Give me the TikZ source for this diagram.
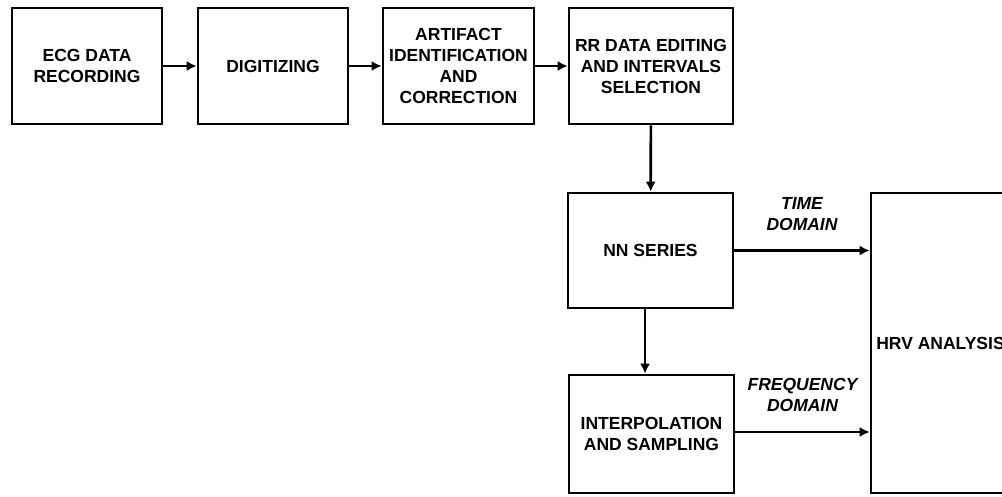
\documentclass[tikz,border=0pt]{standalone}
\usepackage{fontspec}
\setmainfont{Liberation Sans}
\usepackage{tikz}
\usetikzlibrary{arrows.meta}

\tikzset{
  blk/.style={draw, line width=2.6pt, align=center, inner sep=2pt,
    minimum width=150pt, minimum height=116pt,
    font=\fontsize{17.5}{21}\selectfont\bfseries},
  flow/.style={line width=2.6pt, -{Latex[length=10pt,width=10pt]}},
  dom/.style={align=center, inner sep=3pt,
    font=\fontsize{17.5}{21}\selectfont\bfseries\itshape}
}

\begin{document}
\begin{tikzpicture}[x=1pt,y=-1pt]
\clip (0,0) rectangle (1002,497);
\fill[white] (0,0) rectangle (1002,497);

% top row
\node[blk] (ecg) at (87,66) {ECG DATA\\RECORDING};
\node[blk] (dig) at (273,66) {DIGITIZING};
\node[blk, minimum width=151pt] (art) at (458.5,66) {ARTIFACT\\IDENTIFICATION\\AND\\CORRECTION};
\node[blk, minimum width=164pt] (rr) at (651,66) {RR DATA EDITING\\AND INTERVALS\\SELECTION};

% series and analysis
\node[blk, minimum width=165pt, minimum height=115pt] (nn) at (650.5,250.5) {NN SERIES};
\node[blk, minimum width=165pt, minimum height=118pt] (interp) at (651.5,434) {INTERPOLATION\\AND SAMPLING};
\node[blk, minimum width=139pt, minimum height=300pt] (hrv) at (940.5,343) {HRV ANALYSIS};

\draw[flow] (ecg) -- (dig);
\draw[flow] (dig) -- (art);
\draw[flow] (art) -- (rr);
\draw[flow] (rr) -- (nn);
\draw[flow] ([xshift=-5.5pt]nn.south) -- ([xshift=-6.5pt]interp.north);
\draw[flow] (nn.east) -- (nn.east -| hrv.west)
  node[dom, midway, above=16pt] {TIME\\DOMAIN};
\draw[flow] ([yshift=2pt]interp.east) -- ([yshift=2pt]interp.east -| hrv.west)
  node[dom, midway, above=16pt] {FREQUENCY\\DOMAIN};
\end{tikzpicture}
\end{document}
